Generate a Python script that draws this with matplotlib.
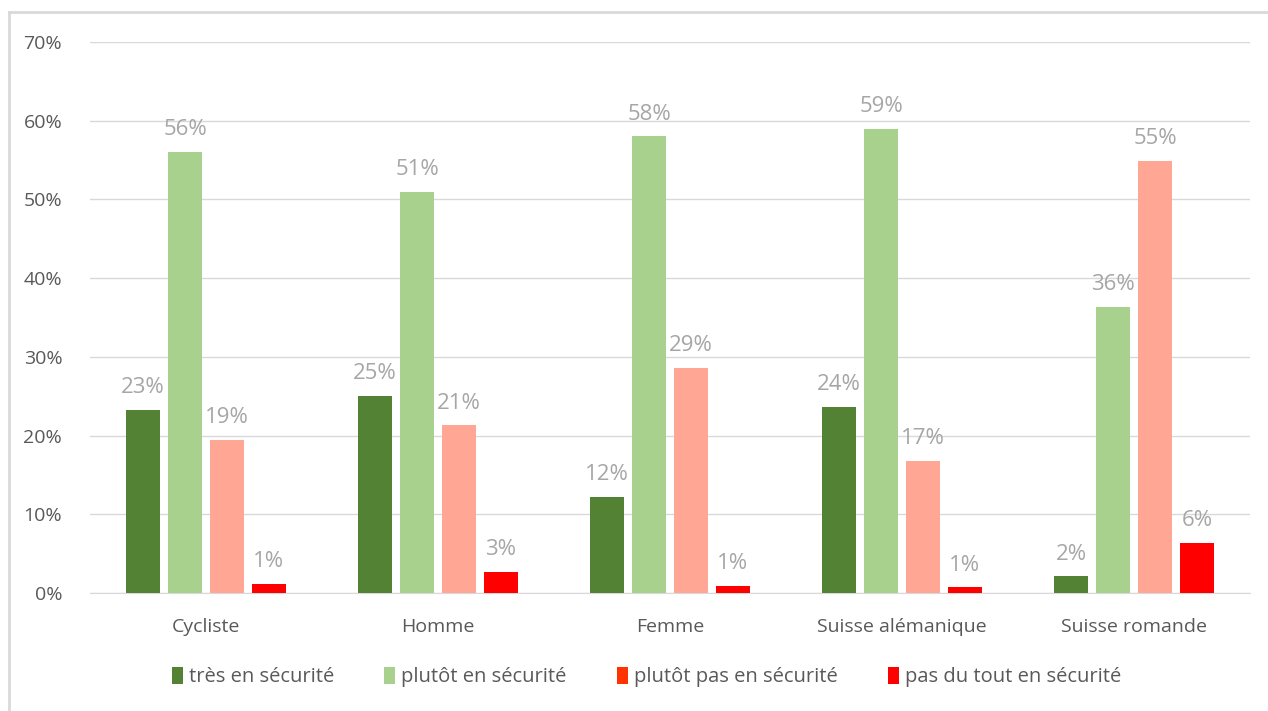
import matplotlib
matplotlib.use("Agg")
import matplotlib.pyplot as plt
from matplotlib.lines import Line2D
from matplotlib.patches import Patch
import numpy as np

categories = ["Cycliste", "Homme", "Femme", "Suisse alémanique", "Suisse romande"]
series_names = ["très en sécurité", "plutôt en sécurité",
                "plutôt pas en sécurité", "pas du tout en sécurité"]
tres = [23.3, 25.0, 12.2, 23.6, 2.1]
plutot = [56.0, 51.0, 58.0, 59.0, 36.3]
plutot_pas = [19.4, 21.3, 28.6, 16.8, 54.9]
pas_du_tout = [1.2, 2.7, 0.9, 0.7, 6.4]
yticks = [0, 10, 20, 30, 40, 50, 60, 70]

BAR_COLORS = ["#548235", "#A9D18E", "#FFA794", "#FF0000"]
LEGEND_COLORS = ["#548235", "#A9D18E", "#FF3300", "#FF0000"]
LABEL_COLOR = "#A6A6A6"
TEXT_COLOR = "#595959"
GRID_COLOR = "#D9D9D9"
FONT = ["Open Sans", "DejaVu Sans"]

plt.rcParams["font.family"] = FONT

fig = plt.figure(figsize=(12.68, 7.11), dpi=100)
ax = fig.add_axes([90/1268, 1-593/711, 1160/1268, (593-42)/711])

x = np.arange(len(categories))
step = 0.181
width = 0.146
series = [tres, plutot, plutot_pas, pas_du_tout]
for i, vals in enumerate(series):
    pos = x + (i - 1.5) * step
    ax.bar(pos, vals, width=width, color=BAR_COLORS[i], zorder=3)
    for px, v in zip(pos, vals):
        ax.text(px, v + 1.5, f"{round(v):d}%", ha="center", va="bottom",
                fontsize=16, color=LABEL_COLOR, zorder=4)

ax.set_xlim(-0.5, len(categories) - 0.5)
ax.set_ylim(0, 70)
ax.set_yticks(yticks)
ax.set_yticklabels([f"{t}%" for t in yticks])
ax.set_xticks(x)
ax.set_xticklabels(categories)
ax.tick_params(axis="both", length=0, colors=TEXT_COLOR, labelsize=14)
ax.tick_params(axis="y", pad=20)
ax.tick_params(axis="x", pad=18)
ax.grid(axis="y", color=GRID_COLOR, linewidth=1, zorder=0)
for s in ["top", "right", "left"]:
    ax.spines[s].set_visible(False)
ax.spines["bottom"].set_color(GRID_COLOR)

handles = [Patch(facecolor=c, edgecolor="none") for c in LEGEND_COLORS]
fig.legend(handles, series_names, loc="center", bbox_to_anchor=(0.51, 1-677/711),
           ncol=4, frameon=False, fontsize=14.5, labelcolor=TEXT_COLOR,
           handlelength=0.55, handleheight=0.9, handletextpad=0.3, columnspacing=2.5)

# outer chart frame
fig.add_artist(Line2D([9/1268, 9/1268], [0, 1-12/711], color="#D9D9D9", lw=2,
                      transform=fig.transFigure))
fig.add_artist(Line2D([9/1268, 1], [1-12/711, 1-12/711], color="#D9D9D9", lw=2,
                      transform=fig.transFigure))

fig.savefig("out.png", dpi=100)
